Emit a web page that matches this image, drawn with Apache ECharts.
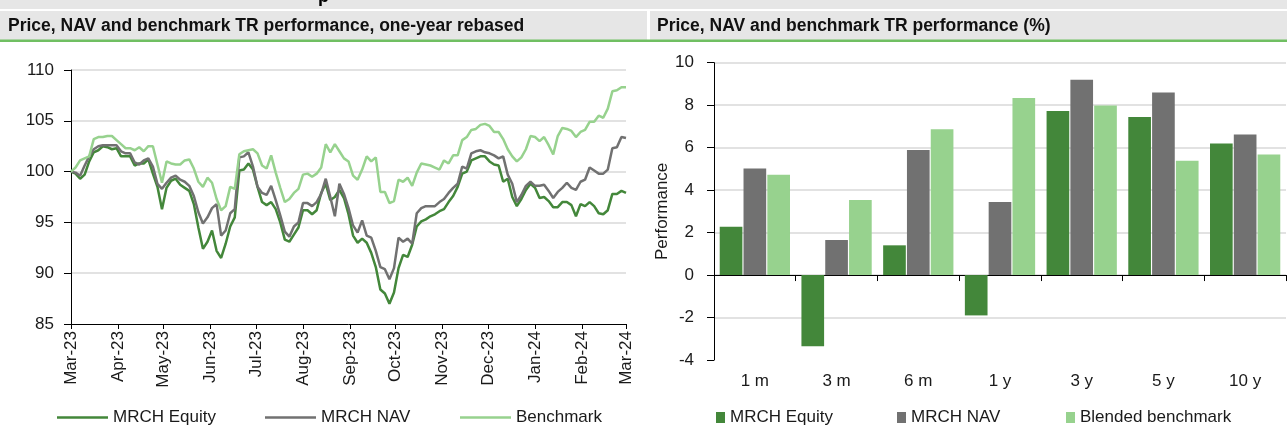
<!DOCTYPE html>
<html><head><meta charset="utf-8">
<script src="https://cdn.jsdelivr.net/npm/echarts@6/dist/echarts.min.js"></script>
<style>html,body{margin:0;padding:0;background:#fff}#c{width:1287px;height:433px}</style>
</head><body><div id="c"></div>
<script>
const FONT = '"Liberation Sans",Arial,sans-serif';

// ---- left chart: one-year rebased, sampled every 3 days from 1 Mar 2023 ----
const startYear = 2023, startMonth = 2, startDay = 1, stepDays = 3;
const equity = [
  100,99.8,99.3,99.7,101,101.9,102.1,102.5,102.4,102.2,
  102.3,101.5,101.5,101.5,100.6,100.8,100.8,101.2,99.8,98.5,
  96.3,98.4,99.1,99.3,98.7,98.4,98.1,96.8,94.5,92.4,
  93.1,94.2,92.2,91.5,92.9,94.6,95.5,100.1,100.2,100.8,
  100.2,98.5,97,96.7,97,96.3,95,93.3,93.1,93.8,
  94.5,96.2,96.2,95.8,96.2,97.9,98.8,97.2,97.5,98.2,
  97.4,95.8,93.7,93,93.4,93,92,90.6,88.4,88,
  87,88.1,90.5,91.8,91.6,92.8,94.6,95.1,95.3,95.6,
  95.8,96.1,96.3,97,97.6,98.5,99.8,100,101.1,101.3,
  101.5,101.5,101,100.7,100.6,99,99.3,97.5,96.6,97.3,
  98.2,98.8,98.4,97.4,97.5,97.1,96.5,96.5,97,97,
  96.7,95.6,96.8,96.6,97,96.6,95.9,95.8,96.2,97.8,
  97.8,98.1,97.9
];
const nav = [
  100,99.9,99.6,100.6,101.5,102.2,102.5,102.6,102.6,102.6,
  102.6,102,101.8,101.8,100.9,100.7,101.1,101.3,100.5,98.8,
  98.3,98.9,99.4,99.6,99.2,99,98.6,97.6,96,94.9,
  95.5,96.4,96.8,93.7,94.2,95.9,96.3,101.4,101.5,101.9,
  100.5,98.5,97.9,97.7,98.6,97.2,95.7,94.1,93.6,94.6,
  95,96.9,96.9,96.6,97,97.8,99.3,97.5,95.6,98.8,
  97.8,96.4,94.7,94,95.2,93.7,93.5,92.2,90.6,90.4,
  89.4,90.5,93.5,93.1,93.4,92.9,95.9,96.4,96.6,96.6,
  96.6,97,97.3,97.9,98.4,98.8,100.5,100.3,101.8,102,
  102.1,101.9,101.8,101.6,101.3,101.5,99.7,98.8,97,97.7,
  98.6,99,98.6,98.6,98.7,98.1,97.4,98,98.4,98.9,
  98.4,98.2,99,99.2,100.4,100.1,99.8,99.8,100.2,102.3,
  102.4,103.4,103.3
];
const benchmark = [
  100,100.4,101.1,101.3,101.5,103.2,103.4,103.4,103.5,103.5,
  103.1,102.7,102.3,102.3,102.1,102.4,102,102.5,102.5,100.7,
  98.9,101,100.8,100.7,100.7,101.1,101.2,100.3,99,98.5,
  99.4,98.9,97.3,96.2,96.6,98.5,98.3,101.7,102,102.1,
  102.2,101.8,100.6,100.3,101.6,99.9,98.4,97,97.3,97.9,
  98.3,99.7,99.8,99.5,99.8,100.4,102.7,101.9,102.7,102,
  101.3,101,99.6,99.2,100.2,101.5,101,101.4,98,98,
  96.9,97.1,99.2,99,99.4,98.6,99.9,100.8,100.7,100.6,
  100.4,100.2,101.1,100.8,101.6,101.6,103.1,103.4,104.1,104.2,
  104.6,104.7,104.5,103.9,103.9,103.2,102.2,101.5,101,101.4,
  102.2,103.5,103.4,103,103.4,102.6,101.7,103.5,104.3,104.2,
  104,103.4,103.9,104.1,104.9,104.9,105.5,105.3,106.2,107.9,
  108,108.3,108.3
];
const monthLabels = ['Mar-23','Apr-23','May-23','Jun-23','Jul-23','Aug-23','Sep-23','Oct-23','Nov-23','Dec-23','Jan-24','Feb-24','Mar-24'];
const leftNames = ['MRCH Equity','MRCH NAV','Benchmark'];

// ---- right chart: performance (%) ----
const periods = ['1 m','3 m','6 m','1 y','3 y','5 y','10 y'];
const perfEquity = [2.27,-3.35,1.4,-1.9,7.72,7.44,6.19];
const perfNav = [5.02,1.65,5.89,3.44,9.2,8.6,6.62];
const perfBench = [4.72,3.53,6.87,8.34,7.98,5.38,5.68];
const rightNames = ['MRCH Equity','MRCH NAV','Blended benchmark'];

const dates = equity.map((_, i) => new Date(startYear, startMonth, startDay + i * stepDays).getTime());
const monthTicks = monthLabels.map((_, k) => new Date(startYear, startMonth + k, 1).getTime());
const tickLabel = {};
monthTicks.forEach((t, k) => tickLabel[t] = monthLabels[k]);

const cEq = '#43873a', cNav = '#717171', cBen = '#97d28e';
const txt = '#1a1a1a';
const grey = '#e6e6e6';

const chart = echarts.init(document.getElementById('c'), null, {renderer: 'canvas', width: 1287, height: 433});

const lbl = {fontFamily: FONT, fontSize: 17, color: txt};
const lineIcon = 'path://M0,9L51,9L51,11.5L0,11.5Z';

const option = {
  animation: false,
  textStyle: {fontFamily: FONT},
  graphic: [
    {type: 'rect', shape: {x: 0, y: 0, width: 1287, height: 9}, style: {fill: grey}, silent: true},
    {type: 'text', x: 318, y: 6, style: {text: 'p', font: 'bold 18px ' + FONT, fill: '#000', verticalAlign: 'bottom'}, silent: true},
    {type: 'rect', shape: {x: 0, y: 11, width: 647, height: 29}, style: {fill: grey}, silent: true},
    {type: 'rect', shape: {x: 650, y: 11, width: 637, height: 29}, style: {fill: grey}, silent: true},
    {type: 'rect', shape: {x: 0, y: 39.5, width: 1287, height: 2.5}, style: {fill: '#70bf62'}, silent: true},
    {type: 'text', x: 8, y: 26, style: {text: 'Price, NAV and benchmark TR performance, one-year rebased', font: 'bold 17.5px ' + FONT, fill: '#111', verticalAlign: 'middle'}, silent: true},
    {type: 'text', x: 657, y: 26, style: {text: 'Price, NAV and benchmark TR performance (%)', font: 'bold 17.5px ' + FONT, fill: '#111', verticalAlign: 'middle'}, silent: true}
  ],
  legend: [
    {data: [leftNames[0]], left: 52, top: 404, itemWidth: 51, itemHeight: 20, textStyle: lbl, icon: lineIcon, itemStyle: {color: cEq}},
    {data: [leftNames[1]], left: 260, top: 404, itemWidth: 51, itemHeight: 20, textStyle: lbl, icon: lineIcon, itemStyle: {color: cNav}},
    {data: [leftNames[2]], left: 455, top: 404, itemWidth: 51, itemHeight: 20, textStyle: lbl, icon: lineIcon, itemStyle: {color: cBen}},
    {data: [rightNames[0]], left: 711, top: 404, itemWidth: 9, itemHeight: 11, textStyle: lbl, icon: 'rect'},
    {data: [rightNames[1]], left: 892, top: 404, itemWidth: 9, itemHeight: 11, textStyle: lbl, icon: 'rect'},
    {data: [rightNames[2]], left: 1061, top: 404, itemWidth: 9, itemHeight: 11, textStyle: lbl, icon: 'rect'}
  ],
  grid: [
    {left: 71, top: 70, width: 555, height: 254},
    {left: 714, top: 62.7, width: 572, height: 297.3}
  ],
  xAxis: [
    {
      gridIndex: 0, type: 'value', min: monthTicks[0], max: monthTicks[monthTicks.length - 1],
      axisLine: {show: true, onZero: false, lineStyle: {color: '#000', width: 1}},
      axisTick: {show: true, customValues: monthTicks, length: 5, lineStyle: {color: '#000'}},
      axisLabel: Object.assign({customValues: monthTicks, rotate: 90, margin: 7, showMinLabel: true, showMaxLabel: true,
        formatter: v => tickLabel[v] || ''}, lbl),
      splitLine: {show: false}
    },
    {
      gridIndex: 1, type: 'category', data: periods,
      axisLine: {show: true, onZero: true, lineStyle: {color: '#000', width: 1}},
      axisTick: {show: true, length: 6, lineStyle: {color: '#000'}},
      axisLabel: {show: false}, splitLine: {show: false}
    },
    {
      gridIndex: 1, type: 'category', data: periods, position: 'bottom',
      axisLine: {show: false, onZero: false}, axisTick: {show: false},
      axisLabel: Object.assign({margin: 13}, lbl), splitLine: {show: false}
    }
  ],
  yAxis: [
    {
      gridIndex: 0, type: 'value', min: 85, max: 110, interval: 5,
      axisLine: {show: true, lineStyle: {color: '#000', width: 1}},
      axisTick: {show: true, length: 7, lineStyle: {color: '#000'}},
      axisLabel: Object.assign({margin: 17}, lbl),
      splitLine: {show: true, showMinLine: false, lineStyle: {color: '#d9d9d9', width: 1.5}}
    },
    {
      gridIndex: 1, type: 'value', min: -4, max: 10, interval: 2,
      name: 'Performance', nameLocation: 'middle', nameGap: 33, nameRotate: 90,
      nameTextStyle: lbl,
      axisLine: {show: true, onZero: false, lineStyle: {color: '#000', width: 1}},
      axisTick: {show: true, length: 7, lineStyle: {color: '#000'}},
      axisLabel: Object.assign({margin: 20}, lbl),
      splitLine: {show: true, showMinLine: false, lineStyle: {color: '#d9d9d9', width: 1.5}}
    }
  ],
  series: [
    {name: leftNames[0], type: 'line', xAxisIndex: 0, yAxisIndex: 0, symbol: 'none', lineStyle: {color: cEq, width: 2.5}, itemStyle: {color: cEq}, data: dates.map((t, i) => [t, equity[i]])},
    {name: leftNames[1], type: 'line', xAxisIndex: 0, yAxisIndex: 0, symbol: 'none', lineStyle: {color: cNav, width: 2.5}, itemStyle: {color: cNav}, data: dates.map((t, i) => [t, nav[i]])},
    {name: leftNames[2], type: 'line', xAxisIndex: 0, yAxisIndex: 0, symbol: 'none', lineStyle: {color: cBen, width: 2.5}, itemStyle: {color: cBen}, data: dates.map((t, i) => [t, benchmark[i]])},
    {name: rightNames[0], type: 'bar', xAxisIndex: 1, yAxisIndex: 1, barCategoryGap: '14%', barGap: '5%', itemStyle: {color: cEq}, data: perfEquity},
    {name: rightNames[1], type: 'bar', xAxisIndex: 1, yAxisIndex: 1, barCategoryGap: '14%', barGap: '5%', itemStyle: {color: cNav}, data: perfNav},
    {name: rightNames[2], type: 'bar', xAxisIndex: 1, yAxisIndex: 1, barCategoryGap: '14%', barGap: '5%', itemStyle: {color: cBen}, data: perfBench}
  ]
};
chart.setOption(option);
</script>
</body></html>
